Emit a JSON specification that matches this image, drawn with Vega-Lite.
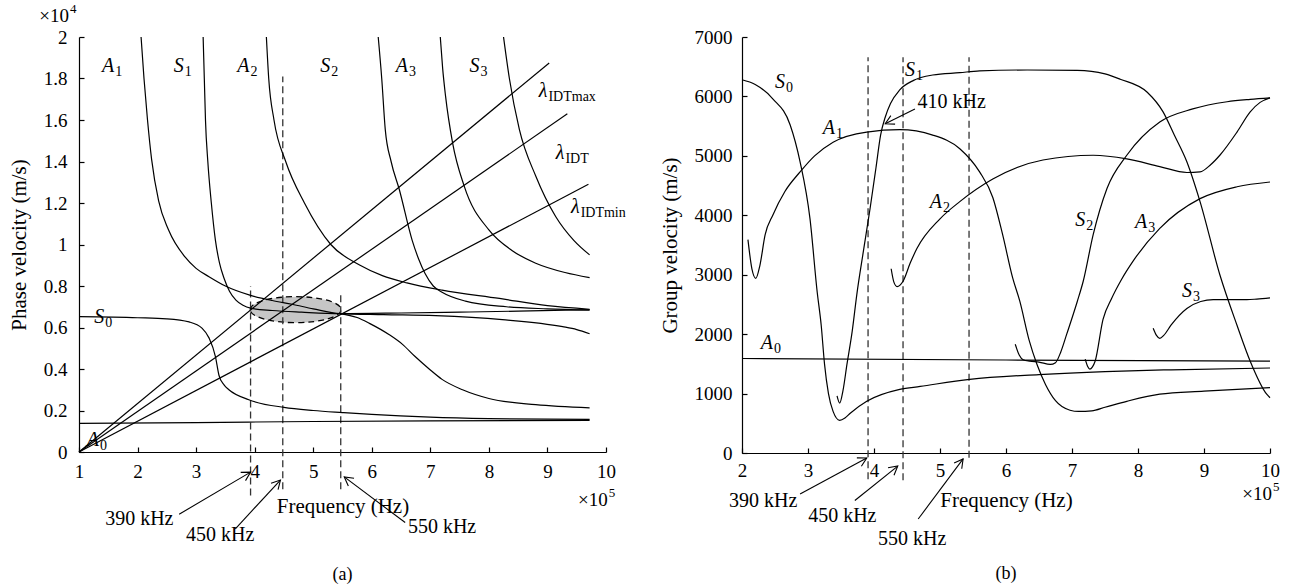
{
"$schema": "https://vega.github.io/schema/vega-lite/v6.json",
"background": "white",
"padding": {"left": 8, "top": 3, "right": 10, "bottom": 4},
"config": {
 "font": "Liberation Serif",
 "view": {"stroke": null},
 "axis": {"grid": false, "domainColor": "black", "tickColor": "black", "labelColor": "black", "titleColor": "black", "labelFont": "Liberation Serif", "titleFont": "Liberation Serif", "labelFontSize": 19, "titleFontSize": 21, "titleFontWeight": "normal", "tickSize": -5, "domainWidth": 1.2, "tickWidth": 1.2, "labelFlush": false, "labelOverlap": false},
 "title": {"font": "Liberation Serif", "fontSize": 18, "fontWeight": "normal", "color": "black"},
 "text": {"font": "Liberation Serif", "color": "black"}
},
"datasets": {
 "phase": [
  {"mode":"A0","f":1,"v":0.138},{"mode":"A0","f":3,"v":0.142},{"mode":"A0","f":5,"v":0.147},{"mode":"A0","f":7,"v":0.15},{"mode":"A0","f":9.72,"v":0.152},
  {"mode":"S0","f":1,"v":0.652},{"mode":"S0","f":2,"v":0.647},{"mode":"S0","f":2.5,"v":0.642},{"mode":"S0","f":2.88,"v":0.627},{"mode":"S0","f":3.1,"v":0.597},{"mode":"S0","f":3.22,"v":0.55},{"mode":"S0","f":3.33,"v":0.46},{"mode":"S0","f":3.39,"v":0.37},{"mode":"S0","f":3.48,"v":0.322},{"mode":"S0","f":3.56,"v":0.3},{"mode":"S0","f":3.9,"v":0.252},{"mode":"S0","f":4.5,"v":0.215},{"mode":"S0","f":5.0,"v":0.2},{"mode":"S0","f":5.5,"v":0.19},{"mode":"S0","f":6.0,"v":0.181},{"mode":"S0","f":7.0,"v":0.168},{"mode":"S0","f":8.0,"v":0.161},{"mode":"S0","f":9.0,"v":0.158},{"mode":"S0","f":9.72,"v":0.157},
  {"mode":"A1","f":2.06,"v":2.0},{"mode":"A1","f":2.11,"v":1.8},{"mode":"A1","f":2.17,"v":1.6},{"mode":"A1","f":2.24,"v":1.41},{"mode":"A1","f":2.36,"v":1.21},{"mode":"A1","f":2.53,"v":1.07},{"mode":"A1","f":2.81,"v":0.94},{"mode":"A1","f":3.0,"v":0.885},{"mode":"A1","f":3.22,"v":0.845},{"mode":"A1","f":3.5,"v":0.8},{"mode":"A1","f":3.93,"v":0.755},{"mode":"A1","f":4.3,"v":0.73},{"mode":"A1","f":4.64,"v":0.712},{"mode":"A1","f":5.0,"v":0.69},{"mode":"A1","f":5.46,"v":0.667},{"mode":"A1","f":6.2,"v":0.662},{"mode":"A1","f":7.09,"v":0.657},{"mode":"A1","f":8.23,"v":0.638},{"mode":"A1","f":9.26,"v":0.604},{"mode":"A1","f":9.5,"v":0.59},{"mode":"A1","f":9.72,"v":0.57},
  {"mode":"S1","f":3.12,"v":2.0},{"mode":"S1","f":3.14,"v":1.8},{"mode":"S1","f":3.16,"v":1.6},{"mode":"S1","f":3.2,"v":1.4},{"mode":"S1","f":3.26,"v":1.2},{"mode":"S1","f":3.33,"v":1.02},{"mode":"S1","f":3.4,"v":0.91},{"mode":"S1","f":3.48,"v":0.835},{"mode":"S1","f":3.57,"v":0.775},{"mode":"S1","f":3.68,"v":0.732},{"mode":"S1","f":3.8,"v":0.707},{"mode":"S1","f":3.93,"v":0.693},{"mode":"S1","f":4.3,"v":0.682},{"mode":"S1","f":4.8,"v":0.674},{"mode":"S1","f":5.46,"v":0.667},{"mode":"S1","f":6.5,"v":0.67},{"mode":"S1","f":7.5,"v":0.674},{"mode":"S1","f":8.5,"v":0.679},{"mode":"S1","f":9.72,"v":0.686},
  {"mode":"S2","f":5.46,"v":0.667},{"mode":"S2","f":5.75,"v":0.648},{"mode":"S2","f":5.96,"v":0.62},{"mode":"S2","f":6.3,"v":0.565},{"mode":"S2","f":6.52,"v":0.52},{"mode":"S2","f":6.74,"v":0.46},{"mode":"S2","f":6.98,"v":0.4},{"mode":"S2","f":7.2,"v":0.35},{"mode":"S2","f":7.55,"v":0.3},{"mode":"S2","f":8.0,"v":0.258},{"mode":"S2","f":8.8,"v":0.228},{"mode":"S2","f":9.72,"v":0.213},
  {"mode":"A2","f":4.2,"v":2.0},{"mode":"A2","f":4.24,"v":1.8},{"mode":"A2","f":4.33,"v":1.6},{"mode":"A2","f":4.53,"v":1.4},{"mode":"A2","f":4.85,"v":1.2},{"mode":"A2","f":5.3,"v":1.0},{"mode":"A2","f":5.8,"v":0.9},{"mode":"A2","f":6.18,"v":0.85},{"mode":"A2","f":6.6,"v":0.815},{"mode":"A2","f":7.2,"v":0.78},{"mode":"A2","f":8.18,"v":0.74},{"mode":"A2","f":9.0,"v":0.705},{"mode":"A2","f":9.72,"v":0.688},
  {"mode":"A3","f":6.11,"v":2.0},{"mode":"A3","f":6.17,"v":1.8},{"mode":"A3","f":6.23,"v":1.555},{"mode":"A3","f":6.33,"v":1.4},{"mode":"A3","f":6.47,"v":1.265},{"mode":"A3","f":6.69,"v":1.02},{"mode":"A3","f":6.8,"v":0.93},{"mode":"A3","f":6.91,"v":0.86},{"mode":"A3","f":7.05,"v":0.8},{"mode":"A3","f":7.2,"v":0.77},{"mode":"A3","f":7.6,"v":0.727},{"mode":"A3","f":8.3,"v":0.7},{"mode":"A3","f":9.0,"v":0.69},{"mode":"A3","f":9.72,"v":0.684},
  {"mode":"S3","f":7.17,"v":2.0},{"mode":"S3","f":7.21,"v":1.85},{"mode":"S3","f":7.26,"v":1.715},{"mode":"S3","f":7.38,"v":1.49},{"mode":"S3","f":7.58,"v":1.28},{"mode":"S3","f":8.0,"v":1.07},{"mode":"S3","f":8.4,"v":0.97},{"mode":"S3","f":8.8,"v":0.91},{"mode":"S3","f":9.3,"v":0.865},{"mode":"S3","f":9.72,"v":0.84},
  {"mode":"A4","f":8.25,"v":2.0},{"mode":"A4","f":8.35,"v":1.8},{"mode":"A4","f":8.52,"v":1.555},{"mode":"A4","f":8.8,"v":1.33},{"mode":"A4","f":9.14,"v":1.135},{"mode":"A4","f":9.45,"v":1.02},{"mode":"A4","f":9.72,"v":0.95},
  {"mode":"Lmax","f":1,"v":0},{"mode":"Lmax","f":9.03,"v":1.875},
  {"mode":"Lidt","f":1,"v":0},{"mode":"Lidt","f":9.34,"v":1.63},
  {"mode":"Lmin","f":1,"v":0},{"mode":"Lmin","f":9.7,"v":1.29}
 ],
 "ellipse": [{"f":4.7,"v":0.686}],
 "dashA": [{"f":3.93,"v":-0.21,"v2":0.8},{"f":4.48,"v":-0.18,"v2":1.81},{"f":5.47,"v":-0.18,"v2":0.77}],
 "arrA": [{"id":1,"f":2.71,"v":-0.3,"f2":3.93,"v2":-0.097},{"id":2,"f":3.67,"v":-0.37,"f2":4.44,"v2":-0.135},{"id":3,"f":6.57,"v":-0.34,"f2":5.53,"v2":-0.12}],
 "annA": [{"f":2.03,"v":-0.324,"t":"390 kHz"},{"f":3.41,"v":-0.4,"t":"450 kHz"},{"f":7.2,"v":-0.36,"t":"550 kHz"}],
 "labA": [{"f":1.6,"v":1.86,"main":"A","sub":"1"},{"f":2.79,"v":1.86,"main":"S","sub":"1"},{"f":3.91,"v":1.86,"main":"A","sub":"2"},{"f":5.29,"v":1.86,"main":"S","sub":"2"},{"f":6.62,"v":1.86,"main":"A","sub":"3"},{"f":7.84,"v":1.86,"main":"S","sub":"3"},{"f":1.43,"v":0.652,"main":"S","sub":"0"},{"f":1.34,"v":0.058,"main":"A","sub":"0"},{"f":9.0,"v":1.74,"main":"λ","sub":"IDTmax"},{"f":9.29,"v":1.44,"main":"λ","sub":"IDT"},{"f":9.55,"v":1.18,"main":"λ","sub":"IDTmin"}],
 "supA": [{"f":0.83,"v":2.1,"main":"×10","sup":"4"},{"f":10.03,"v":-0.232,"main":"×10","sup":"5"}],
 "group": [
  {"mode":"A0","f":2,"v":1590},{"mode":"A0","f":6,"v":1565},{"mode":"A0","f":10,"v":1545},
  {"mode":"S0","f":2,"v":6280},{"mode":"S0","f":2.2,"v":6200},{"mode":"S0","f":2.47,"v":5956},{"mode":"S0","f":2.73,"v":5520},{"mode":"S0","f":2.88,"v":4900},{"mode":"S0","f":3.03,"v":3943},{"mode":"S0","f":3.14,"v":2700},{"mode":"S0","f":3.2,"v":2150},{"mode":"S0","f":3.25,"v":1500},{"mode":"S0","f":3.31,"v":1000},{"mode":"S0","f":3.38,"v":700},{"mode":"S0","f":3.48,"v":550},{"mode":"S0","f":3.56,"v":590},{"mode":"S0","f":3.64,"v":670},{"mode":"S0","f":3.89,"v":870},{"mode":"S0","f":4.39,"v":1070},{"mode":"S0","f":4.7,"v":1120},{"mode":"S0","f":5.45,"v":1240},{"mode":"S0","f":6.5,"v":1320},{"mode":"S0","f":7.5,"v":1370},{"mode":"S0","f":8.5,"v":1400},{"mode":"S0","f":10,"v":1430},
  {"mode":"A1","f":2.09,"v":3590},{"mode":"A1","f":2.15,"v":3100},{"mode":"A1","f":2.21,"v":2940},{"mode":"A1","f":2.27,"v":3150},{"mode":"A1","f":2.35,"v":3670},{"mode":"A1","f":2.47,"v":4010},{"mode":"A1","f":2.65,"v":4400},{"mode":"A1","f":2.88,"v":4730},{"mode":"A1","f":3.1,"v":5000},{"mode":"A1","f":3.38,"v":5230},{"mode":"A1","f":3.89,"v":5400},{"mode":"A1","f":4.39,"v":5440},{"mode":"A1","f":4.89,"v":5350},{"mode":"A1","f":5.3,"v":5120},{"mode":"A1","f":5.6,"v":4730},{"mode":"A1","f":5.8,"v":4300},{"mode":"A1","f":5.95,"v":3670},{"mode":"A1","f":6.1,"v":2950},{"mode":"A1","f":6.21,"v":2550},{"mode":"A1","f":6.35,"v":1900},{"mode":"A1","f":6.47,"v":1490},{"mode":"A1","f":6.6,"v":1150},{"mode":"A1","f":6.75,"v":880},{"mode":"A1","f":6.97,"v":720},{"mode":"A1","f":7.1,"v":700},{"mode":"A1","f":7.3,"v":710},{"mode":"A1","f":7.5,"v":770},{"mode":"A1","f":7.83,"v":870},{"mode":"A1","f":8.33,"v":990},{"mode":"A1","f":9,"v":1040},{"mode":"A1","f":10,"v":1100},
  {"mode":"S1","f":3.44,"v":960},{"mode":"S1","f":3.48,"v":840},{"mode":"S1","f":3.53,"v":1050},{"mode":"S1","f":3.59,"v":1490},{"mode":"S1","f":3.67,"v":2050},{"mode":"S1","f":3.74,"v":2670},{"mode":"S1","f":3.84,"v":3400},{"mode":"S1","f":3.94,"v":4110},{"mode":"S1","f":4.03,"v":4800},{"mode":"S1","f":4.1,"v":5350},{"mode":"S1","f":4.17,"v":5650},{"mode":"S1","f":4.25,"v":5880},{"mode":"S1","f":4.39,"v":6110},{"mode":"S1","f":4.6,"v":6270},{"mode":"S1","f":4.89,"v":6360},{"mode":"S1","f":5.3,"v":6400},{"mode":"S1","f":5.6,"v":6430},{"mode":"S1","f":6.32,"v":6445},{"mode":"S1","f":7.08,"v":6440},{"mode":"S1","f":7.5,"v":6380},{"mode":"S1","f":7.73,"v":6290},{"mode":"S1","f":8.14,"v":6070},{"mode":"S1","f":8.38,"v":5740},{"mode":"S1","f":8.55,"v":5350},{"mode":"S1","f":8.74,"v":4900},{"mode":"S1","f":8.94,"v":4230},{"mode":"S1","f":9.24,"v":3000},{"mode":"S1","f":9.5,"v":2150},{"mode":"S1","f":9.7,"v":1545},{"mode":"S1","f":9.95,"v":990},{"mode":"S1","f":10,"v":930},
  {"mode":"A2","f":4.26,"v":3100},{"mode":"A2","f":4.3,"v":2880},{"mode":"A2","f":4.35,"v":2800},{"mode":"A2","f":4.44,"v":2890},{"mode":"A2","f":4.55,"v":3200},{"mode":"A2","f":4.65,"v":3440},{"mode":"A2","f":5.0,"v":3940},{"mode":"A2","f":5.3,"v":4230},{"mode":"A2","f":5.8,"v":4610},{"mode":"A2","f":6.56,"v":4930},{"mode":"A2","f":7.32,"v":5010},{"mode":"A2","f":7.83,"v":4950},{"mode":"A2","f":8.33,"v":4820},{"mode":"A2","f":8.74,"v":4720},{"mode":"A2","f":8.94,"v":4730},{"mode":"A2","f":9.1,"v":4850},{"mode":"A2","f":9.24,"v":5010},{"mode":"A2","f":9.5,"v":5400},{"mode":"A2","f":9.7,"v":5740},{"mode":"A2","f":9.85,"v":5900},{"mode":"A2","f":10,"v":5975},
  {"mode":"S2","f":6.14,"v":1830},{"mode":"S2","f":6.2,"v":1650},{"mode":"S2","f":6.26,"v":1570},{"mode":"S2","f":6.36,"v":1545},{"mode":"S2","f":6.5,"v":1530},{"mode":"S2","f":6.67,"v":1490},{"mode":"S2","f":6.75,"v":1520},{"mode":"S2","f":6.83,"v":1700},{"mode":"S2","f":6.92,"v":2000},{"mode":"S2","f":7.08,"v":2550},{"mode":"S2","f":7.17,"v":2890},{"mode":"S2","f":7.32,"v":3670},{"mode":"S2","f":7.53,"v":4450},{"mode":"S2","f":7.83,"v":5010},{"mode":"S2","f":8.33,"v":5570},{"mode":"S2","f":8.83,"v":5790},{"mode":"S2","f":9.35,"v":5910},{"mode":"S2","f":9.7,"v":5950},{"mode":"S2","f":10,"v":5975},
  {"mode":"A3","f":7.2,"v":1580},{"mode":"A3","f":7.24,"v":1450},{"mode":"A3","f":7.27,"v":1410},{"mode":"A3","f":7.31,"v":1450},{"mode":"A3","f":7.35,"v":1545},{"mode":"A3","f":7.47,"v":2250},{"mode":"A3","f":7.6,"v":2600},{"mode":"A3","f":7.75,"v":2920},{"mode":"A3","f":7.92,"v":3220},{"mode":"A3","f":8.33,"v":3780},{"mode":"A3","f":8.94,"v":4280},{"mode":"A3","f":9.5,"v":4480},{"mode":"A3","f":10,"v":4560},
  {"mode":"S3","f":8.23,"v":2100},{"mode":"S3","f":8.28,"v":1980},{"mode":"S3","f":8.33,"v":1930},{"mode":"S3","f":8.39,"v":1980},{"mode":"S3","f":8.5,"v":2150},{"mode":"S3","f":8.74,"v":2430},{"mode":"S3","f":8.95,"v":2550},{"mode":"S3","f":9.14,"v":2580},{"mode":"S3","f":9.4,"v":2580},{"mode":"S3","f":9.65,"v":2580},{"mode":"S3","f":9.8,"v":2590},{"mode":"S3","f":10,"v":2610}
 ],
 "dashB": [{"f":3.91,"v":-440,"v2":6660},{"f":4.44,"v":-460,"v2":6660},{"f":5.44,"v":-80,"v2":6660}],
 "arrB": [{"id":1,"f":2.88,"v":-690,"f2":3.89,"v2":-84},{"id":2,"f":3.71,"v":-800,"f2":4.36,"v2":-220},{"id":3,"f":4.67,"v":-1110,"f2":5.35,"v2":-100},{"id":4,"f":4.62,"v":5790,"f2":4.17,"v2":5540}],
 "annB": [{"f":2.32,"v":-805,"t":"390 kHz"},{"f":3.52,"v":-1060,"t":"450 kHz"},{"f":4.58,"v":-1440,"t":"550 kHz"}],
 "ann410": [{"f":4.66,"v":5900,"t":"410 kHz"}],
 "labB": [{"f":2.65,"v":6240,"main":"S","sub":"0"},{"f":3.41,"v":5470,"main":"A","sub":"1"},{"f":4.62,"v":6440,"main":"S","sub":"1"},{"f":5.03,"v":4230,"main":"A","sub":"2"},{"f":7.2,"v":3920,"main":"S","sub":"2"},{"f":8.14,"v":3890,"main":"A","sub":"3"},{"f":8.82,"v":2720,"main":"S","sub":"3"},{"f":2.47,"v":1850,"main":"A","sub":"0"}],
 "supB": [{"f":10.03,"v":-690,"main":"×10","sup":"5"}]
},
"columns": 2,
"spacing": 33,
"concat": [
 {
  "width": 527, "height": 415,
  "title": {"text": "(a)", "orient": "bottom", "frame": "group", "offset": 21},
  "encoding": {
   "x": {"field": "f", "type": "quantitative", "scale": {"domain": [1, 10], "nice": false, "zero": false},
    "axis": {"values": [1,2,3,4,5,6,7,8,9,10], "format": "d", "title": "Frequency (Hz)", "labelPadding": 15, "titlePadding": 14}},
   "y": {"field": "v", "type": "quantitative", "scale": {"domain": [0, 2], "nice": false, "zero": false},
    "axis": {"values": [0,0.2,0.4,0.6,0.8,1,1.2,1.4,1.6,1.8,2], "format": "~g", "title": "Phase velocity (m/s)", "labelPadding": 17, "titlePadding": 14}}
  },
  "layer": [
   {"data": {"name": "ellipse"}, "mark": {"type": "point", "shape": "M-1,0A1,0.286,0,1,1,1,0A1,0.286,0,1,1,-1,0Z", "size": 8281, "filled": true, "fill": "#c6c6c6", "stroke": "black", "strokeWidth": 1.3, "strokeDash": [6, 4], "opacity": 1}},
   {"data": {"name": "dashA"}, "mark": {"type": "rule", "strokeDash": [7, 4], "color": "#333333", "strokeWidth": 1.3}, "encoding": {"y2": {"field": "v2"}}},
   {"data": {"name": "phase"}, "mark": {"type": "line", "interpolate": "monotone", "color": "black", "strokeWidth": 1.2}, "encoding": {"detail": {"field": "mode"}}},
   {"data": {"name": "arrA"}, "mark": {"type": "rule", "color": "black", "strokeWidth": 1.1}, "encoding": {"x2": {"field": "f2"}, "y2": {"field": "v2"}}},
   {"data": {"name": "arrA"}, "transform": [{"filter": "datum.id == 1"}], "mark": {"type": "point", "shape": "M-1,-0.55L0,0L-1,0.55", "size": 300, "filled": false, "stroke": "black", "strokeWidth": 1.1, "angle": -30.5, "opacity": 1}, "encoding": {"x": {"field": "f2", "type": "quantitative"}, "y": {"field": "v2", "type": "quantitative"}}},
   {"data": {"name": "arrA"}, "transform": [{"filter": "datum.id == 2"}], "mark": {"type": "point", "shape": "M-1,-0.55L0,0L-1,0.55", "size": 300, "filled": false, "stroke": "black", "strokeWidth": 1.1, "angle": -47.3, "opacity": 1}, "encoding": {"x": {"field": "f2", "type": "quantitative"}, "y": {"field": "v2", "type": "quantitative"}}},
   {"data": {"name": "arrA"}, "transform": [{"filter": "datum.id == 3"}], "mark": {"type": "point", "shape": "M-1,-0.55L0,0L-1,0.55", "size": 300, "filled": false, "stroke": "black", "strokeWidth": 1.1, "angle": -143.2, "opacity": 1}, "encoding": {"x": {"field": "f2", "type": "quantitative"}, "y": {"field": "v2", "type": "quantitative"}}},
   {"data": {"name": "annA"}, "mark": {"type": "text", "fontSize": 20, "align": "center", "baseline": "middle"}, "encoding": {"text": {"field": "t"}}},
   {"data": {"name": "labA"}, "mark": {"type": "text", "fontSize": 20, "fontStyle": "italic", "align": "right", "baseline": "middle"}, "encoding": {"text": {"field": "main"}}},
   {"data": {"name": "labA"}, "mark": {"type": "text", "fontSize": 14, "align": "left", "baseline": "middle", "dx": 1, "dy": 6}, "encoding": {"text": {"field": "sub"}}},
   {"data": {"name": "supA"}, "mark": {"type": "text", "fontSize": 19, "align": "right", "baseline": "middle"}, "encoding": {"text": {"field": "main"}}},
   {"data": {"name": "supA"}, "mark": {"type": "text", "fontSize": 13, "align": "left", "baseline": "middle", "dx": 1, "dy": -7}, "encoding": {"text": {"field": "sup"}}}
  ]
 },
 {
  "width": 528, "height": 416,
  "title": {"text": "(b)", "orient": "bottom", "frame": "group", "offset": 16},
  "encoding": {
   "x": {"field": "f", "type": "quantitative", "scale": {"domain": [2, 10], "nice": false, "zero": false},
    "axis": {"values": [2,3,4,5,6,7,8,9,10], "format": "d", "title": "Frequency (Hz)", "labelPadding": 13, "titlePadding": 9}},
   "y": {"field": "v", "type": "quantitative", "scale": {"domain": [0, 7000], "nice": false, "zero": false},
    "axis": {"values": [0,1000,2000,3000,4000,5000,6000,7000], "format": "d", "title": "Group velocity (m/s)", "labelPadding": 15, "titlePadding": 14}}
  },
  "layer": [
   {"data": {"name": "dashB"}, "mark": {"type": "rule", "strokeDash": [7, 4], "color": "#333333", "strokeWidth": 1.3}, "encoding": {"y2": {"field": "v2"}}},
   {"data": {"name": "group"}, "mark": {"type": "line", "interpolate": "monotone", "color": "black", "strokeWidth": 1.2}, "encoding": {"detail": {"field": "mode"}}},
   {"data": {"name": "arrB"}, "mark": {"type": "rule", "color": "black", "strokeWidth": 1.1}, "encoding": {"x2": {"field": "f2"}, "y2": {"field": "v2"}}},
   {"data": {"name": "arrB"}, "transform": [{"filter": "datum.id == 1"}], "mark": {"type": "point", "shape": "M-1,-0.55L0,0L-1,0.55", "size": 300, "filled": false, "stroke": "black", "strokeWidth": 1.1, "angle": -28.4, "opacity": 1}, "encoding": {"x": {"field": "f2", "type": "quantitative"}, "y": {"field": "v2", "type": "quantitative"}}},
   {"data": {"name": "arrB"}, "transform": [{"filter": "datum.id == 2"}], "mark": {"type": "point", "shape": "M-1,-0.55L0,0L-1,0.55", "size": 300, "filled": false, "stroke": "black", "strokeWidth": 1.1, "angle": -38.9, "opacity": 1}, "encoding": {"x": {"field": "f2", "type": "quantitative"}, "y": {"field": "v2", "type": "quantitative"}}},
   {"data": {"name": "arrB"}, "transform": [{"filter": "datum.id == 3"}], "mark": {"type": "point", "shape": "M-1,-0.55L0,0L-1,0.55", "size": 300, "filled": false, "stroke": "black", "strokeWidth": 1.1, "angle": -53.3, "opacity": 1}, "encoding": {"x": {"field": "f2", "type": "quantitative"}, "y": {"field": "v2", "type": "quantitative"}}},
   {"data": {"name": "arrB"}, "transform": [{"filter": "datum.id == 4"}], "mark": {"type": "point", "shape": "M-1,-0.55L0,0L-1,0.55", "size": 300, "filled": false, "stroke": "black", "strokeWidth": 1.1, "angle": 153.4, "opacity": 1}, "encoding": {"x": {"field": "f2", "type": "quantitative"}, "y": {"field": "v2", "type": "quantitative"}}},
   {"data": {"name": "annB"}, "mark": {"type": "text", "fontSize": 20, "align": "center", "baseline": "middle"}, "encoding": {"text": {"field": "t"}}},
   {"data": {"name": "ann410"}, "mark": {"type": "text", "fontSize": 20, "align": "left", "baseline": "middle"}, "encoding": {"text": {"field": "t"}}},
   {"data": {"name": "labB"}, "mark": {"type": "text", "fontSize": 20, "fontStyle": "italic", "align": "right", "baseline": "middle"}, "encoding": {"text": {"field": "main"}}},
   {"data": {"name": "labB"}, "mark": {"type": "text", "fontSize": 14, "align": "left", "baseline": "middle", "dx": 1, "dy": 6}, "encoding": {"text": {"field": "sub"}}},
   {"data": {"name": "supB"}, "mark": {"type": "text", "fontSize": 19, "align": "right", "baseline": "middle"}, "encoding": {"text": {"field": "main"}}},
   {"data": {"name": "supB"}, "mark": {"type": "text", "fontSize": 13, "align": "left", "baseline": "middle", "dx": 1, "dy": -7}, "encoding": {"text": {"field": "sup"}}}
  ]
 }
]
}
